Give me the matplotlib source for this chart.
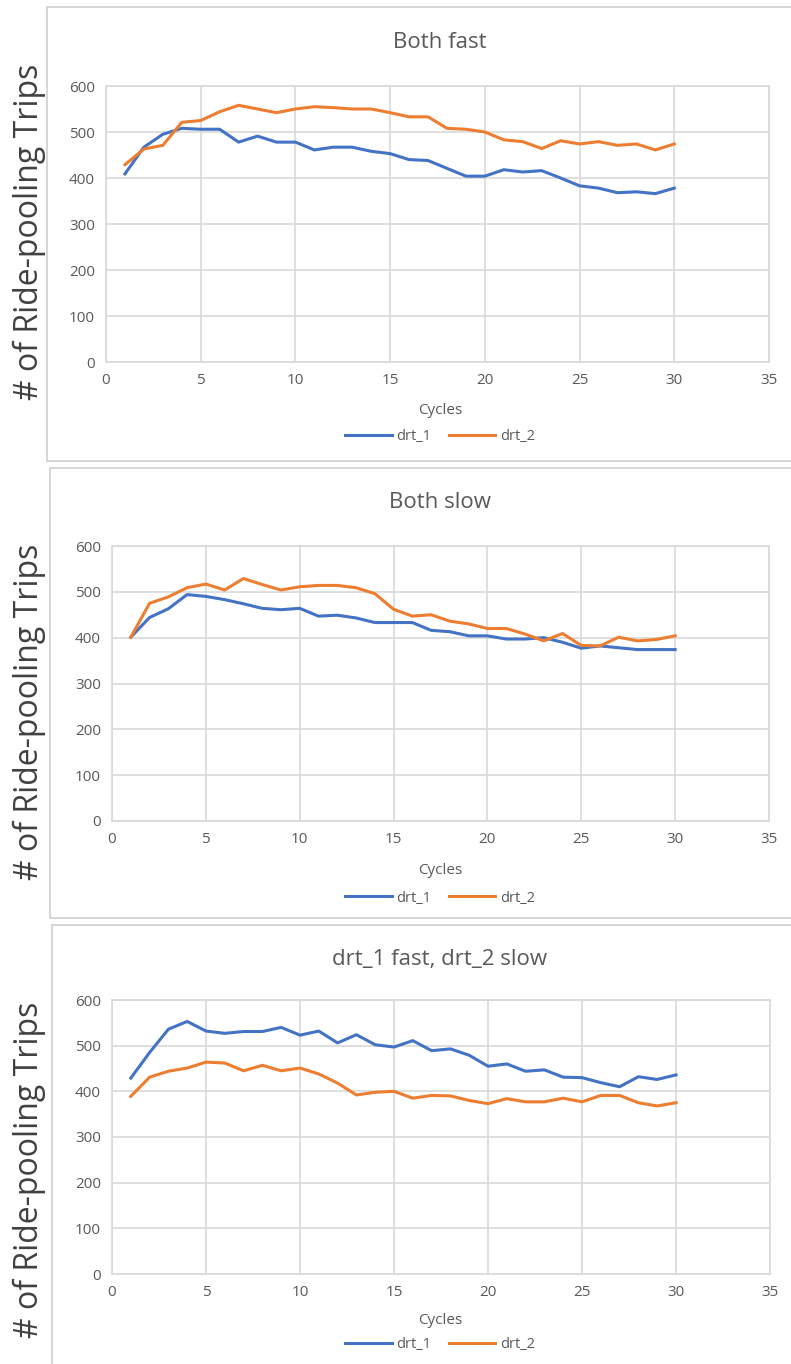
import matplotlib
matplotlib.use("Agg")
import matplotlib.pyplot as plt
from matplotlib.patches import Rectangle

plt.rcParams['font.family'] = ['Open Sans', 'DejaVu Sans']

cycles = list(range(1, 31))

## Both fast
fast_drt1 = [409, 467, 495, 508, 506, 506, 478, 491, 478, 478,
             461, 467, 467, 458, 453, 440, 438, 421, 404, 404,
             418, 413, 416, 400, 383, 378, 368, 370, 366, 378]
fast_drt2 = [429, 463, 471, 521, 525, 544, 558, 550, 542, 550,
             555, 553, 550, 550, 542, 533, 533, 508, 506, 500,
             483, 479, 464, 481, 474, 479, 471, 474, 461, 474]

## Both slow
slow_drt1 = [401, 444, 463, 494, 490, 483, 474, 464, 461, 464,
             447, 449, 443, 433, 433, 433, 416, 413, 404, 404,
             397, 397, 400, 390, 377, 382, 378, 374, 374, 374]
slow_drt2 = [401, 475, 489, 509, 517, 504, 529, 516, 504, 511,
             514, 514, 509, 496, 462, 447, 450, 436, 430, 420,
             420, 408, 393, 409, 383, 382, 401, 393, 396, 404]

## drt_1 fast, drt_2 slow
mixed_drt1 = [429, 485, 536, 553, 532, 527, 531, 531, 540, 523,
              532, 506, 524, 502, 497, 511, 489, 493, 479, 455,
              460, 444, 447, 431, 430, 419, 410, 432, 426, 436]
mixed_drt2 = [389, 431, 444, 451, 464, 462, 445, 457, 445, 451,
              438, 418, 392, 398, 400, 385, 391, 390, 380, 373,
              384, 377, 377, 385, 377, 391, 391, 375, 368, 375]

titles = ["Both fast", "Both slow", "drt_1 fast, drt_2 slow"]
series = [(fast_drt1, fast_drt2), (slow_drt1, slow_drt2), (mixed_drt1, mixed_drt2)]
x_ticks = [0, 5, 10, 15, 20, 25, 30, 35]
y_ticks = [0, 100, 200, 300, 400, 500, 600]

BLUE = '#4472C4'
ORANGE = '#ED7D31'
GRID = '#D9D9D9'
TXT = '#595959'

W, H = 791, 1364
fig = plt.figure(figsize=(W / 100, H / 100), dpi=100)

# pixel layout of each panel: frame (left, top, bottom), axes (left, right, top, bottom),
# title / xlabel / legend y, ylabel centre y
layout = [
    dict(frame=(47, 7, 461), ax=(106, 769, 86, 362), title=42, ylab=232, xlab=411, leg=437),
    dict(frame=(50, 468, 918), ax=(112, 769, 546, 821), title=503, ylab=712, xlab=870, leg=898),
    dict(frame=(52, 925, 1375), ax=(112, 770, 1000, 1274), title=960, ylab=1170, xlab=1320, leg=1345),
]

def fx(px):
    return px / W

def fy(py):
    return 1 - py / H

for i, (title, (d1, d2), lay) in enumerate(zip(titles, series, layout)):
    fl, ft, fb = lay['frame']
    fig.patches.append(Rectangle((fx(fl), fy(fb)), fx(W + 20 - fl), fy(ft) - fy(fb),
                                 transform=fig.transFigure, facecolor='white',
                                 edgecolor='#D0D0D0', linewidth=1.2, zorder=-5))
    al, ar, at, ab = lay['ax']
    ax = fig.add_axes([fx(al), fy(ab), fx(ar) - fx(al), fy(at) - fy(ab)])
    ax.plot(cycles, d1, color=BLUE, lw=2.2, label='drt_1', solid_joinstyle='round')
    ax.plot(cycles, d2, color=ORANGE, lw=2.2, label='drt_2', solid_joinstyle='round')
    ax.set_xlim(0, 35)
    ax.set_ylim(0, 600)
    ax.set_xticks(x_ticks)
    ax.set_yticks(y_ticks)
    ax.grid(True, color=GRID, lw=1.2)
    ax.set_axisbelow(True)
    for s in ax.spines.values():
        s.set_color(GRID)
        s.set_linewidth(1.2)
    ax.tick_params(length=0, colors=TXT, labelsize=11, pad=8)
    ax.patch.set_alpha(0)

    fig.text(fx(440), fy(lay['title']), title, ha='center', va='center',
             fontsize=16, color=TXT)
    fig.text(fx(440), fy(lay['xlab']), "Cycles", ha='center', va='center',
             fontsize=11, color=TXT)
    fig.text(fx(29), fy(lay['ylab']), "# of Ride-pooling Trips", ha='center', va='center',
             rotation=90, fontsize=23, color='#404040')
    leg = fig.legend(handles=ax.get_lines(), loc='center',
                     bbox_to_anchor=(fx(440), fy(lay['leg'])), ncol=2, frameon=False,
                     fontsize=10.5, handlelength=3.2, handletextpad=0.3,
                     columnspacing=1.2, borderpad=0)
    for t in leg.get_texts():
        t.set_color(TXT)

fig.savefig("out.png", dpi=100)
